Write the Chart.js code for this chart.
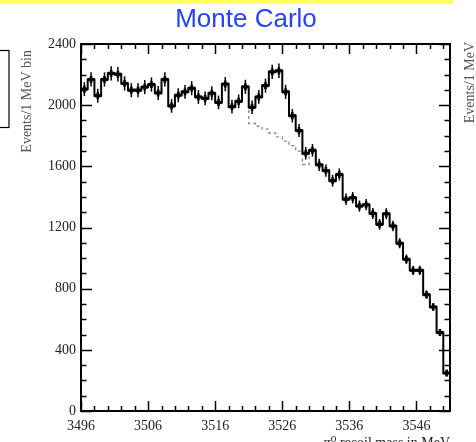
<!DOCTYPE html>
<html>
<head>
<meta charset="utf-8">
<script src="https://cdn.jsdelivr.net/npm/chart.js@4.4.0/dist/chart.umd.min.js"></script>
<style>
body { margin: 0; background: #fff; overflow: hidden; }
#wrap { position: relative; width: 476px; height: 442px; }
</style>
</head>
<body>
<div id="wrap"><canvas id="myChart" width="476" height="442"></canvas></div>
<script>
var massBins = [3496, 3497, 3498, 3499, 3500, 3501, 3502, 3503, 3504, 3505,
  3506, 3507, 3508, 3509, 3510, 3511, 3512, 3513, 3514, 3515,
  3516, 3517, 3518, 3519, 3520, 3521, 3522, 3523, 3524, 3525,
  3526, 3527, 3528, 3529, 3530, 3531, 3532, 3533, 3534, 3535,
  3536, 3537, 3538, 3539, 3540, 3541, 3542, 3543, 3544, 3545,
  3546, 3547, 3548, 3549, 3550];
var counts = [2105, 2168, 2062, 2168, 2208, 2202, 2142, 2098, 2098, 2118,
  2135, 2080, 2168, 1995, 2065, 2087, 2111, 2054, 2044, 2078,
  2018, 2138, 1990, 2025, 2120, 1986, 2054, 2128, 2218, 2225,
  2087, 1931, 1834, 1685, 1705, 1610, 1572, 1506, 1547, 1385,
  1395, 1340, 1349, 1292, 1221, 1290, 1210, 1097, 992, 920,
  920, 761, 680, 513, 248];
var bgBins = [3520, 3521, 3522, 3523, 3524, 3525, 3526, 3527, 3528, 3529, 3530];
var bgCounts = [2120, 1880, 1862, 1843, 1818, 1792, 1765, 1736, 1700, 1612, 1705];
var xTickLabels = [3496, 3506, 3516, 3526, 3536, 3546];
var yTickLabels = [0, 400, 800, 1200, 1600, 2000, 2400];
var xMin = 3496, xMax = 3551;

var histPts = massBins.map(function(b, i) { return {x: b, y: counts[i]}; });
histPts.push({x: xMax, y: counts[counts.length - 1]});
histPts.push({x: xMax, y: 0});
var bgPts = bgBins.map(function(b, i) { return {x: b, y: bgCounts[i]}; });
bgPts.push({x: bgBins[bgBins.length - 1] + 1, y: bgCounts[bgCounts.length - 1]});

var serif = '"Liberation Serif", "DejaVu Serif", serif';

var decor = {
  id: 'decor',
  afterDatasetsDraw: function(chart) {
    var ctx = chart.ctx, xs = chart.scales.x, ys = chart.scales.y;
    ctx.save();
    ctx.fillStyle = '#000';
    ctx.strokeStyle = '#000';
    ctx.lineWidth = 1.5;
    massBins.forEach(function(b, i) {
      // poisson error on each bin
      var err = Math.sqrt(counts[i]);
      var px = xs.getPixelForValue(b + 0.5);
      var py = ys.getPixelForValue(counts[i]);
      ctx.beginPath();
      ctx.moveTo(px, ys.getPixelForValue(counts[i] + err));
      ctx.lineTo(px, ys.getPixelForValue(counts[i] - err));
      ctx.stroke();
      ctx.fillRect(px - 3.5, py - 1.6, 7, 3.2);
      ctx.fillRect(px - 1.3, py - 3.5, 2.6, 7);
    });
    ctx.restore();
  },
  afterDraw: function(chart) {
    var ctx = chart.ctx, xs = chart.scales.x, ys = chart.scales.y, a = chart.chartArea;
    ctx.save();
    // frame
    ctx.strokeStyle = '#000';
    ctx.lineWidth = 2;
    ctx.strokeRect(a.left, a.top, a.right - a.left, a.bottom - a.top);
    ctx.lineWidth = 1.5;
    ctx.beginPath();
    for (var v = xMin; v <= xMax; v += 2) {
      var px = Math.round(xs.getPixelForValue(v)) + 0.5;
      var len = ((v - xMin) % 10 === 0) ? 10 : 5;
      ctx.moveTo(px, a.bottom); ctx.lineTo(px, a.bottom - len);
      ctx.moveTo(px, a.top); ctx.lineTo(px, a.top + len);
    }
    for (var w = 0; w <= 2400; w += 100) {
      var py = Math.round(ys.getPixelForValue(w)) + 0.5;
      var l2 = (w % 400 === 0) ? 11 : 5.5;
      ctx.moveTo(a.left, py); ctx.lineTo(a.left + l2, py);
      ctx.moveTo(a.right, py); ctx.lineTo(a.right - l2, py);
    }
    ctx.stroke();

    // yellow bar and neighbour panel bits
    ctx.fillStyle = '#ffff5a';
    ctx.fillRect(0, 0, 453, 4);
    ctx.lineWidth = 1.2;
    ctx.strokeRect(-5, 50.5, 14, 77);

    // title
    ctx.fillStyle = '#2741ff';
    ctx.font = '26px "Liberation Sans", Arial, sans-serif';
    ctx.textAlign = 'center';
    ctx.textBaseline = 'alphabetic';
    ctx.fillText('Monte Carlo', 246, 27);

    // axis titles
    ctx.fillStyle = '#555';
    ctx.font = '14px ' + serif;
    ctx.save();
    ctx.translate(31, 50);
    ctx.rotate(-Math.PI / 2);
    ctx.textAlign = 'right';
    ctx.fillText('Events/1 MeV bin', 0, 0);
    ctx.restore();
    ctx.save();
    ctx.translate(474, 42);
    ctx.rotate(-Math.PI / 2);
    ctx.textAlign = 'right';
    ctx.fillText('Events/1 MeV', 0, 0);
    ctx.restore();

    ctx.fillStyle = '#222';
    ctx.textAlign = 'right';
    ctx.fillText('\u03c0\u2070 recoil mass in MeV', 450, 447);
    ctx.restore();
  }
};

var ctx = document.getElementById('myChart');
var myChart = new Chart(ctx, {
  type: 'line',
  data: {
    datasets: [{
      label: 'Monte Carlo',
      data: histPts,
      borderColor: '#000',
      borderWidth: 2,
      stepped: true,
      pointRadius: 0,
      fill: false,
      order: 0
    }, {
      label: 'background',
      data: bgPts,
      borderColor: '#8a8a8a',
      borderWidth: 1.3,
      borderDash: [3, 3],
      stepped: true,
      pointRadius: 0,
      fill: false,
      order: 1
    }]
  },
  options: {
    responsive: false,
    animation: false,
    devicePixelRatio: 1,
    layout: { padding: { top: 44, left: 0, right: 26, bottom: 0 } },
    plugins: { legend: { display: false }, tooltip: { enabled: false }, title: { display: false } },
    scales: {
      x: {
        type: 'linear',
        min: xMin,
        max: xMax,
        grid: { display: false, drawTicks: false },
        border: { display: false },
        afterBuildTicks: function(s) { s.ticks = xTickLabels.map(function(v) { return {value: v}; }); },
        afterFit: function(s) { s.height = 31; },
        ticks: { padding: 7, color: '#222', maxRotation: 0, autoSkip: false, font: { family: serif, size: 14 },
          callback: function(v) { return String(v); } }
      },
      y: {
        min: 0,
        max: 2400,
        grid: { display: false, drawTicks: false },
        border: { display: false },
        afterBuildTicks: function(s) { s.ticks = yTickLabels.map(function(v) { return {value: v}; }); },
        afterFit: function(s) { s.width = 81; },
        ticks: { padding: 5, color: '#222', autoSkip: false, font: { family: serif, size: 14 },
          callback: function(v) { return String(v); } }
      }
    }
  },
  plugins: [decor]
});
</script>
</body>
</html>
